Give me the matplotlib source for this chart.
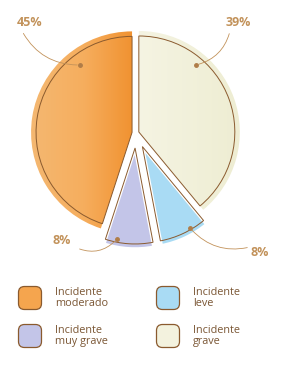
import matplotlib.pyplot as plt
from matplotlib.patches import FancyBboxPatch
from matplotlib.colors import LinearSegmentedColormap
import numpy as np

# datos
categorias = ['Incidente\nmoderado', 'Incidente\nmuy grave', 'Incidente\nleve', 'Incidente\ngrave']
valores = [45, 8, 8, 39]
etiquetas = ['45%', '8%', '8%', '39%']
colores = ['#F5A54E', '#C3C5E8', '#A9DBF4', '#F3F2DE']

W, H = 295, 365
fig = plt.figure(figsize=(W / 100, H / 100), dpi=100)
fig.patch.set_facecolor('#ffffff')
ax = fig.add_axes([0, 0, 1, 1])

cx, cy = 136, H - 133
radio = 101
explode = [4, 15, 15, 3]  # en pixeles (pie usa unidades absolutas)

wedges, _ = ax.pie(valores, colors=colores, startangle=90, counterclock=True,
                   explode=explode, radius=radio, center=(cx, cy),
                   wedgeprops=dict(edgecolor='white', linewidth=2.5))

# degradado para la porcion naranja
grad = np.tile(np.linspace(0, 1, 200), (200, 1))
cmap = LinearSegmentedColormap.from_list('nar', ['#F4B872', '#F6AE5E', '#F08F2C'])
img = ax.imshow(grad, cmap=cmap, extent=(cx - radio - 6, cx + 2, cy - radio - 6, cy + radio + 6),
                zorder=wedges[0].get_zorder() + 0.1, aspect='auto')
img.set_clip_path(wedges[0])
cmap2 = LinearSegmentedColormap.from_list('cre', ['#F5F4E3', '#EEEDD2'])
img2 = ax.imshow(grad, cmap=cmap2, extent=(cx, cx + radio + 6, cy - radio, cy + radio + 6),
                 zorder=wedges[3].get_zorder() + 0.1, aspect='auto')
img2.set_clip_path(wedges[3])

# trazo marron interior tipo boceto
ax.pie(valores, colors=['none'] * 4, startangle=90, counterclock=True,
       explode=explode, radius=radio - 5, center=(cx, cy),
       wedgeprops=dict(edgecolor='#8A5A2E', linewidth=0.7, fill=False, zorder=5))

marron = '#C2925A'
# etiquetas de porcentaje con lineas guia (coordenadas en pixeles de la imagen)
textos = [(30, 22), (62, 241), (260, 253), (238, 22)]
puntos = [(80, 65), (117, 239), (190, 228), (196, 65)]
origen = [(22, 31), (77, 248), (250, 247), (230, 31)]
curvas = [0.3, 0.35, -0.3, -0.3]
for et, (tx, ty), (px, py), (ox, oy), rad in zip(etiquetas, textos, puntos, origen, curvas):
    ax.text(tx, H - ty, et, ha='center', va='center', fontsize=9,
            fontweight='bold', color=marron, family='Open Sans')
    ax.annotate('', xy=(px, H - py), xytext=(ox, H - oy),
                arrowprops=dict(arrowstyle='-', color=marron, lw=0.6,
                                connectionstyle='arc3,rad=%s' % rad), zorder=6)
    ax.plot(px, H - py, 'o', color='#B07D48', markersize=2.5, zorder=6)

# leyenda
pos_ley = [(30, 298), (30, 336), (168, 298), (168, 336)]
for cat, col, (lx, ly) in zip(categorias, colores, pos_ley):
    caja = FancyBboxPatch((lx - 10, H - ly - 10), 20, 20,
                          boxstyle='round,pad=1.5,rounding_size=6',
                          facecolor=col, edgecolor='#8A5A2E', linewidth=0.9)
    ax.add_patch(caja)
    ax.text(lx + 25, H - ly, cat, ha='left', va='center', fontsize=7.8,
            color='#7A5634', family='Open Sans', linespacing=1.05)

ax.set_xlim(0, W)
ax.set_ylim(0, H)
ax.set_aspect('auto')
ax.axis('off')

fig.savefig('out.png', dpi=100)
